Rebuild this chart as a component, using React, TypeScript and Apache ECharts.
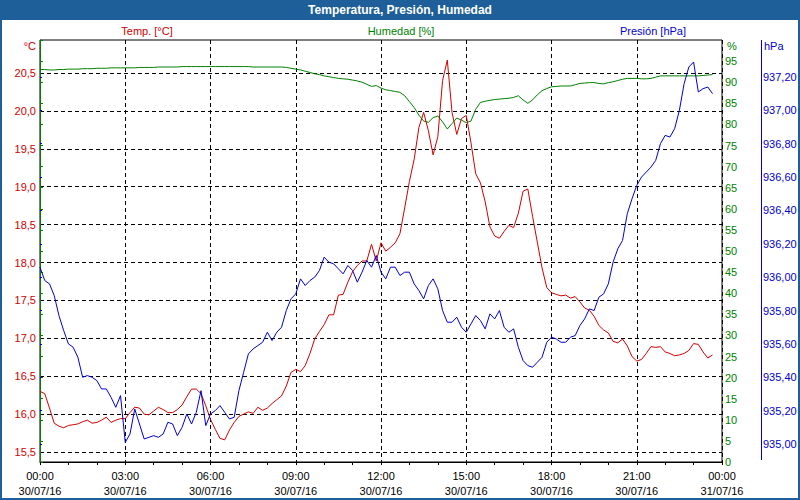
import React, { useEffect, useRef } from "react";
import * as echarts from "echarts";

// Sampling step of the station (minutes) starting 30/07/16 00:00
const STEP_MIN = 10;

const TITLE = "Temperatura, Presión, Humedad";
const X_TICK_TIMES = ["00:00", "03:00", "06:00", "09:00", "12:00", "15:00", "18:00", "21:00", "00:00"];
const X_TICK_DATES = ["30/07/16", "30/07/16", "30/07/16", "30/07/16", "30/07/16", "30/07/16", "30/07/16", "30/07/16", "31/07/16"];

const TEMP = [
  16.30, 16.27, 16.08, 15.88, 15.84, 15.82, 15.85, 15.86, 15.87, 15.90,
  15.92, 15.88, 15.89, 15.92, 15.96, 15.89, 15.92, 15.94, 15.94, 16.02,
  16.09, 16.08, 16.00, 15.99, 16.04, 16.09, 16.06, 16.02, 16.02, 16.06,
  16.12, 16.23, 16.33, 16.33, 16.27, 16.11, 15.93, 15.80, 15.68, 15.66,
  15.79, 15.89, 15.97, 16.00, 16.03, 16.01, 16.09, 16.05, 16.08, 16.14,
  16.19, 16.24, 16.37, 16.55, 16.59, 16.56, 16.64, 16.80, 16.99, 17.09,
  17.18, 17.31, 17.31, 17.57, 17.58, 17.74, 17.88, 17.96, 18.02, 18.02,
  18.24, 18.02, 18.26, 18.15, 18.20, 18.26, 18.38, 18.72, 19.07, 19.36,
  19.78, 19.98, 19.74, 19.42, 19.66, 20.40, 20.67, 19.98, 19.69, 19.90,
  19.94, 19.58, 19.17, 19.05, 18.80, 18.47, 18.35, 18.32, 18.41, 18.49,
  18.46, 18.65, 18.94, 18.97, 18.61, 18.27, 17.93, 17.67, 17.60, 17.58,
  17.56, 17.57, 17.53, 17.55, 17.48, 17.40, 17.37, 17.29, 17.17, 17.11,
  17.07, 16.96, 16.94, 16.99, 16.90, 16.76, 16.70, 16.72, 16.80, 16.89,
  16.88, 16.89, 16.82, 16.80, 16.77, 16.78, 16.80, 16.84, 16.93, 16.92,
  16.82, 16.74, 16.78,
];

const PRES = [
  936.06, 935.98, 935.96, 935.89, 935.77, 935.68, 935.60, 935.58, 935.52, 935.40,
  935.41, 935.40, 935.38, 935.33, 935.33, 935.28, 935.22, 935.29, 935.01, 935.06,
  935.21, 935.12, 935.03, 935.04, 935.05, 935.04, 935.06, 935.13, 935.12, 935.05,
  935.10, 935.18, 935.12, 935.19, 935.32, 935.11, 935.18, 935.20, 935.23, 935.19,
  935.15, 935.16, 935.32, 935.43, 935.54, 935.57, 935.59, 935.61, 935.67, 935.62,
  935.67, 935.70, 935.80, 935.87, 935.90, 935.99, 935.95, 935.98, 936.00, 936.04,
  936.12, 936.09, 936.08, 936.05, 936.02, 936.07, 936.04, 935.97, 936.03, 936.10,
  936.06, 936.13, 936.03, 935.99, 936.06, 936.06, 936.01, 936.03, 936.03, 935.96,
  935.92, 935.87, 935.95, 935.99, 935.93, 935.80, 935.73, 935.73, 935.76, 935.70,
  935.67, 935.72, 935.77, 935.74, 935.69, 935.78, 935.75, 935.80, 935.70, 935.67,
  935.69, 935.58, 935.50, 935.47, 935.46, 935.49, 935.52, 935.61, 935.64, 935.63,
  935.61, 935.61, 935.64, 935.65, 935.71, 935.75, 935.81, 935.80, 935.88, 935.90,
  935.96, 936.09, 936.17, 936.22, 936.38, 936.47, 936.55, 936.60, 936.63, 936.66,
  936.70, 936.80, 936.85, 936.84, 936.89, 937.00, 937.16, 937.26, 937.29, 937.11,
  937.13, 937.14, 937.10,
];

const HUM = [
  93.0, 93.0, 92.9, 92.9, 93.0, 93.0, 93.1, 93.1, 93.1, 93.2,
  93.2, 93.2, 93.3, 93.3, 93.3, 93.4, 93.4, 93.4, 93.4, 93.4,
  93.4, 93.5, 93.5, 93.5, 93.5, 93.6, 93.6, 93.6, 93.6, 93.6,
  93.7, 93.7, 93.7, 93.7, 93.7, 93.7, 93.7, 93.7, 93.7, 93.7,
  93.7, 93.7, 93.7, 93.7, 93.7, 93.6, 93.6, 93.6, 93.6, 93.6,
  93.6, 93.6, 93.5, 93.3, 93.1, 92.9, 92.6, 92.3, 92.0, 91.8,
  91.5, 91.3, 91.1, 90.9, 90.8, 90.7, 90.5, 90.3, 90.0, 89.5,
  89.0, 89.2, 88.6, 88.2, 88.0, 87.8, 87.6, 86.8, 85.4, 84.0,
  82.2, 80.8, 80.5, 81.6, 82.0, 80.6, 78.9, 80.2, 81.5, 81.0,
  80.4, 80.8, 83.6, 85.2, 85.5, 85.7, 85.9, 86.0, 86.1, 86.2,
  86.4, 86.8, 85.8, 85.0, 85.8, 87.0, 88.0, 88.5, 88.9, 89.0,
  89.1, 89.1, 89.1, 89.4, 89.7, 89.8, 89.9, 89.9, 89.7, 89.6,
  89.9, 90.1, 90.4, 90.7, 90.9, 90.9, 90.9, 90.8, 90.8, 90.9,
  91.2, 91.5, 91.5, 91.5, 91.5, 91.5, 91.5, 91.5, 91.5, 91.5,
  91.6, 91.7, 91.8,
];

const RED = "#d00000";
const GREEN = "#008000";
const BLUE = "#0000d0";
const BAR = "#1f5f99";
const FONT = '"Liberation Sans", Arial, sans-serif';

const toPairs = (arr: number[]) => arr.map((v, i) => [(i * STEP_MIN) / 60, v]);
const comma = (v: number, d: number) => v.toFixed(d).replace(".", ",");

export default function App() {
  const ref = useRef<HTMLDivElement>(null);
  useEffect(() => {
    if (!ref.current) return;
    const chart = echarts.init(ref.current, undefined, { renderer: "svg" });
    const dash = [4, 3];
    const hiddenX = (gridIndex: number) => ({
      type: "value",
      gridIndex,
      min: 0,
      max: 24,
      show: false,
    });
    const textEl = (text: string, x: number, y: number, color: string, align: string, font = `11px ${FONT}`) => ({
      type: "text",
      x,
      y,
      silent: true,
      style: { text, fill: color, font, textAlign: align, textVerticalAlign: "middle" },
    });
    chart.setOption({
      animation: false,
      backgroundColor: "#ffffff",
      grid: [
        { left: 40, top: 40, width: 682, height: 422, show: true, borderColor: "#000", borderWidth: 1, backgroundColor: "#fff" },
        { left: 40, top: 73, width: 682, height: 379, show: false },
        { left: 40, top: 77, width: 682, height: 367, show: false },
      ],
      xAxis: [
        {
          type: "value",
          gridIndex: 0,
          min: 0,
          max: 24,
          interval: 3,
          axisLine: { show: true, lineStyle: { color: "#000", width: 1 } },
          axisTick: { show: true, length: 3, lineStyle: { color: "#000" } },
          minorTick: { show: true, splitNumber: 3, length: 3, lineStyle: { color: "#000" } },
          splitLine: { show: true, lineStyle: { color: "#000", type: dash, width: 1 } },
          axisLabel: {
            color: "#000",
            fontSize: 11,
            fontFamily: FONT,
            margin: 6,
            lineHeight: 15,
            formatter: (v: number) => {
              const i = Math.round(v / 3);
              return `${X_TICK_TIMES[i]}\n${X_TICK_DATES[i]}`;
            },
          },
        },
        hiddenX(1),
        hiddenX(2),
      ],
      yAxis: [
        {
          type: "value",
          gridIndex: 0,
          position: "right",
          min: 0,
          max: 100,
          interval: 5,
          axisLine: { show: true, lineStyle: { color: GREEN, width: 1 } },
          axisTick: { show: true, length: 3, lineStyle: { color: GREEN } },
          splitLine: { show: false },
          axisLabel: {
            color: GREEN,
            fontSize: 11,
            fontFamily: FONT,
            margin: 3,
            formatter: (v: number) => (v >= 100 ? "" : String(v)),
          },
        },
        {
          type: "value",
          gridIndex: 1,
          position: "left",
          min: 15.5,
          max: 20.5,
          interval: 0.5,
          axisLine: { show: false },
          axisTick: { show: false },
          splitLine: { show: true, lineStyle: { color: "#000", type: dash, width: 1 } },
          axisLabel: {
            color: RED,
            fontSize: 11,
            fontFamily: FONT,
            margin: 4,
            formatter: (v: number) => comma(v, 1),
          },
        },
        {
          type: "value",
          gridIndex: 2,
          position: "right",
          offset: 39,
          min: 935.0,
          max: 937.2,
          interval: 0.2,
          axisLine: { show: false },
          axisTick: { show: true, length: 2, lineStyle: { color: BLUE } },
          splitLine: { show: false },
          axisLabel: {
            color: BLUE,
            fontSize: 11,
            fontFamily: FONT,
            margin: 2,
            formatter: (v: number) => comma(v, 2),
          },
        },
      ],
      series: [
        {
          name: "Humedad [%]",
          type: "line",
          xAxisIndex: 0,
          yAxisIndex: 0,
          data: toPairs(HUM),
          showSymbol: false,
          clip: false,
          lineStyle: { color: GREEN, width: 1 },
          itemStyle: { color: GREEN },
        },
        {
          name: "Temp. [°C]",
          type: "line",
          xAxisIndex: 1,
          yAxisIndex: 1,
          data: toPairs(TEMP),
          showSymbol: false,
          clip: false,
          lineStyle: { color: RED, width: 1 },
          itemStyle: { color: RED },
        },
        {
          name: "Presión [hPa]",
          type: "line",
          xAxisIndex: 2,
          yAxisIndex: 2,
          data: toPairs(PRES),
          showSymbol: false,
          clip: false,
          lineStyle: { color: BLUE, width: 1 },
          itemStyle: { color: BLUE },
        },
      ],
      graphic: [
        { type: "rect", silent: true, shape: { x: 0, y: 0, width: 800, height: 20 }, style: { fill: BAR } },
        { type: "rect", silent: true, shape: { x: 0, y: 20, width: 2, height: 480 }, style: { fill: BAR } },
        { type: "rect", silent: true, shape: { x: 798, y: 20, width: 2, height: 480 }, style: { fill: BAR } },
        { type: "rect", silent: true, shape: { x: 0, y: 498, width: 800, height: 2 }, style: { fill: BAR } },
        textEl(TITLE, 400, 10, "#ffffff", "center", `bold 12px ${FONT}`),
        textEl("Temp. [°C]", 147, 31, RED, "center"),
        textEl("Humedad [%]", 401, 31, GREEN, "center"),
        textEl("Presión [hPa]", 653, 31, BLUE, "center"),
        textEl("°C", 36, 46, RED, "right"),
        textEl("%", 727, 46, GREEN, "left"),
        textEl("hPa", 764, 46, BLUE, "left"),
        {
          type: "line",
          silent: true,
          shape: { x1: 761.5, y1: 40, x2: 761.5, y2: 460 },
          style: { stroke: BLUE, lineWidth: 1 },
        },
      ],
    });
    return () => chart.dispose();
  }, []);
  return (
    <div
      ref={ref}
      style={{ position: "absolute", left: 0, top: 0, width: 800, height: 500 }}
    />
  );
}
